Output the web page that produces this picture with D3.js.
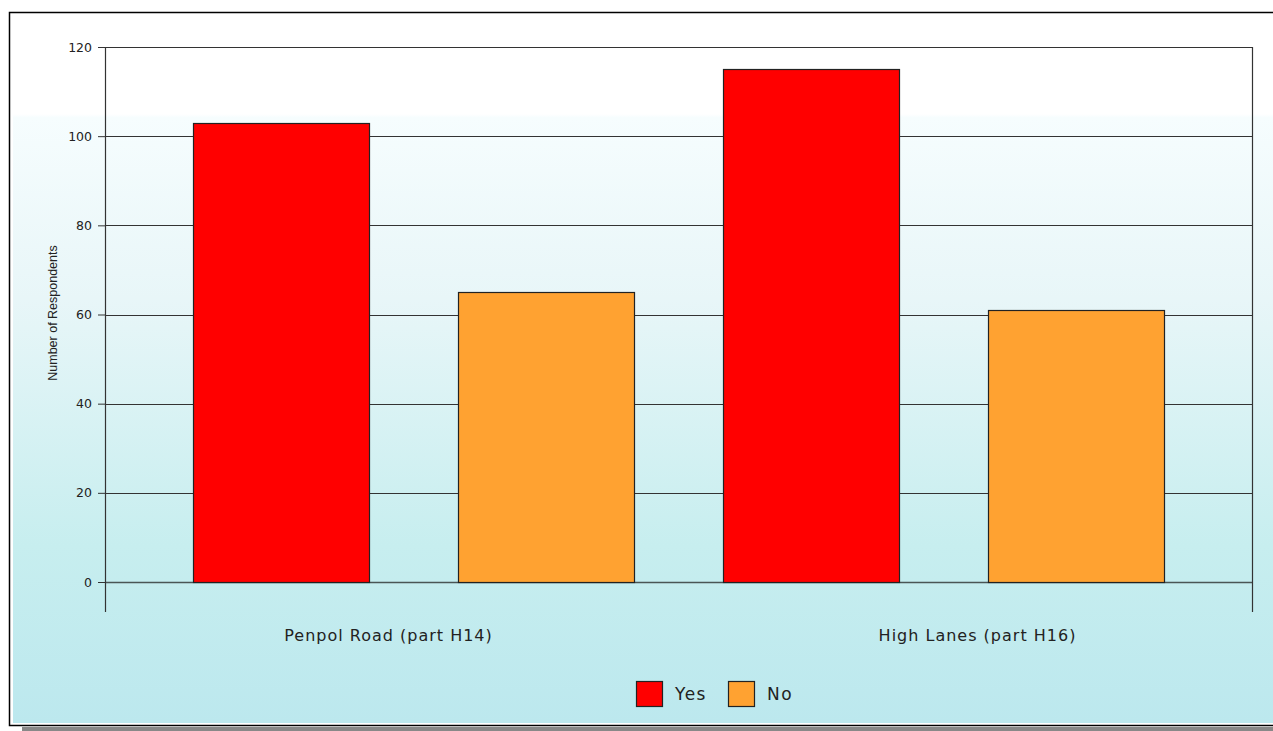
<!DOCTYPE html>
<html>
<head>
<meta charset="utf-8">
<script src="https://cdn.jsdelivr.net/npm/d3@7/dist/d3.min.js"></script>
<style>
  html, body { margin: 0; padding: 0; background: #ffffff; }
  svg { display: block; }
  text { font-family: "DejaVu Sans", sans-serif; fill: #222; }
</style>
</head>
<body>
<svg id="chart" width="1273" height="731"></svg>
<script>
// Survey responses per area
const categories = ["Penpol Road (part H14)", "High Lanes (part H16)"];
const seriesNames = ["Yes", "No"];
const yesValues = [103, 115];
const noValues = [65, 61];
const yTicks = [0, 20, 40, 60, 80, 100, 120];

const colors = { Yes: "#ff0000", No: "#ffa231" };

const svg = d3.select("#chart");
const W = 1273, H = 731;

// Frame, shadow and background gradient
const defs = svg.append("defs");
const grad = defs.append("linearGradient")
  .attr("id", "bg").attr("x1", 0).attr("y1", 0).attr("x2", 0).attr("y2", 1);
grad.append("stop").attr("offset", "0").attr("stop-color", "#ffffff");
grad.append("stop").attr("offset", "0.14").attr("stop-color", "#ffffff");
grad.append("stop").attr("offset", "0.145").attr("stop-color", "#f6fdfe");
grad.append("stop").attr("offset", "0.4").attr("stop-color", "#e8f6f8");
grad.append("stop").attr("offset", "0.75").attr("stop-color", "#c7eeef");
grad.append("stop").attr("offset", "1").attr("stop-color", "#bce8ee");

svg.append("rect").attr("x", 22).attr("y", 727).attr("width", W - 22).attr("height", 4)
  .attr("fill", "#888");
svg.append("rect").attr("x", 9.5).attr("y", 12.5).attr("width", W + 5).attr("height", 713)
  .attr("fill", "#ffffff").attr("stroke", "#000").attr("stroke-width", 1.5);
svg.append("rect").attr("x", 13).attr("y", 15).attr("width", W - 13).attr("height", 708)
  .attr("fill", "url(#bg)");

// Plot area
const plot = { left: 105, right: 1252, top: 47, bottom: 582, axisEnd: 612 };

const y = d3.scaleLinear().domain([0, 120]).range([plot.bottom, plot.top]);

const barKeys = [];
categories.forEach(c => seriesNames.forEach(s => barKeys.push(c + "|" + s)));
const x = d3.scaleBand()
  .domain(barKeys)
  .range([plot.left, plot.right])
  .paddingInner(89 / 265)
  .paddingOuter(0.332);

// Y ticks
const yAxis = d3.axisLeft(y).tickValues(yTicks).tickSize(7).tickPadding(6);
const gy = svg.append("g").attr("transform", `translate(${plot.left},0)`).call(yAxis);
gy.select(".domain").remove();
gy.selectAll(".tick line").attr("stroke", "#333");
gy.selectAll(".tick text").attr("font-size", 12.5).attr("fill", "#333")
  .style("font-family", "'DejaVu Sans', sans-serif");

// Horizontal gridlines
svg.append("g").selectAll("line").data(yTicks).join("line")
  .attr("x1", plot.left).attr("x2", plot.right)
  .attr("y1", d => Math.round(y(d)) + 0.5).attr("y2", d => Math.round(y(d)) + 0.5)
  .attr("stroke", d => d === 0 ? "#4a5555" : "#333").attr("stroke-width", d => d === 0 ? 1.5 : 1);

// Bars
const barData = [];
categories.forEach((c, i) => {
  barData.push({ key: c + "|Yes", series: "Yes", value: yesValues[i] });
  barData.push({ key: c + "|No", series: "No", value: noValues[i] });
});
svg.append("g").selectAll("rect").data(barData).join("rect")
  .attr("x", d => Math.round(x(d.key)) + 0.5)
  .attr("y", d => Math.round(y(d.value)) + 0.5)
  .attr("width", x.bandwidth())
  .attr("height", d => plot.bottom - Math.round(y(d.value)))
  .attr("fill", d => colors[d.series])
  .attr("stroke", "#222").attr("stroke-width", 1.2);

// Vertical axis lines
[plot.left, plot.right].forEach(px => {
  svg.append("line").attr("x1", px + 0.5).attr("x2", px + 0.5)
    .attr("y1", plot.top).attr("y2", plot.axisEnd)
    .attr("stroke", "#333").attr("stroke-width", 1.2);
});

// Category labels
const xLabel = d3.scalePoint().domain(categories).range([388.5, 977.5]);
svg.append("g").selectAll("text").data(categories).join("text")
  .attr("x", d => xLabel(d)).attr("y", 641)
  .attr("text-anchor", "middle").attr("font-size", 16)
  .attr("letter-spacing", 1)
  .attr("fill", "#333")
  .text(d => d);

// Y axis title
svg.append("text")
  .attr("transform", `translate(57,${313}) rotate(-90)`)
  .attr("text-anchor", "middle").attr("font-size", 12.5)
  .style("font-family", "'Liberation Sans', Arial, sans-serif")
  .text("Number of Respondents");

// Legend
const legend = svg.append("g");
const legendItems = [
  { name: "Yes", x: 636, tx: 675 },
  { name: "No", x: 728, tx: 767 }
];
legend.selectAll("rect").data(legendItems).join("rect")
  .attr("x", d => d.x + 0.5).attr("y", 681.5).attr("width", 26).attr("height", 25)
  .attr("fill", d => colors[d.name]).attr("stroke", "#222").attr("stroke-width", 1.2);
legend.selectAll("text").data(legendItems).join("text")
  .attr("x", d => d.tx).attr("y", 700).attr("font-size", 17)
  .attr("letter-spacing", 1.5)
  .attr("fill", "#333")
  .text(d => d.name);
</script>
</body>
</html>
